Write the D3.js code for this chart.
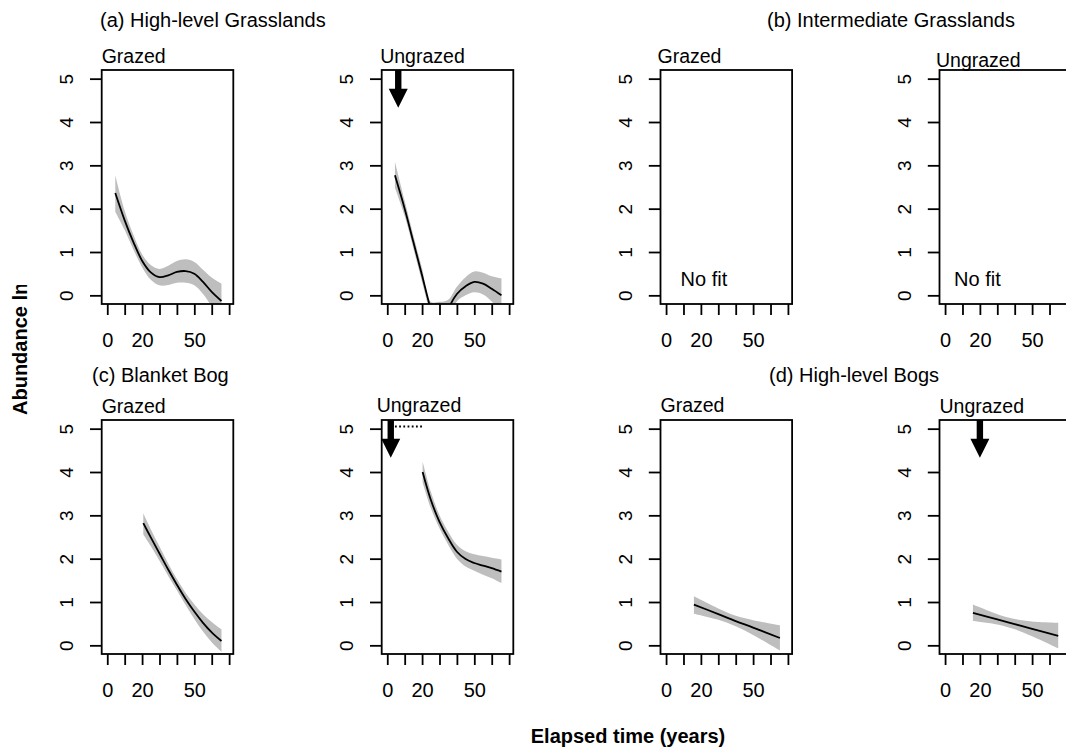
<!DOCTYPE html>
<html>
<head>
<meta charset="utf-8">
<script src="https://cdn.jsdelivr.net/npm/d3@7"></script>
<style>
body { margin: 0; background: #fff; }
text { font-family: "Liberation Sans", Arial, sans-serif; fill: #000; }
</style>
</head>
<body>
<svg id="chart" width="1066" height="752"></svg>
<script>
// ---- data ----
const groupTitles = ['(a) High-level Grasslands', '(b) Intermediate Grasslands',
                     '(c) Blanket Bog', '(d) High-level Bogs'];
const panelTitles = ['Grazed', 'Ungrazed'];
const xTicks = [0, 10, 20, 30, 40, 50, 60, 70];
const xTickLabels = ['0', '', '20', '', '', '50', '', ''];
const yTicks = [0, 1, 2, 3, 4, 5];

// (a) High-level Grasslands, grazed
const aGrazedYears = [4.6, 10, 15, 20, 25, 30, 35, 40, 45, 50, 55, 60, 65.6];
const aGrazedFit   = [2.36, 1.73, 1.23, 0.80, 0.53, 0.42, 0.46, 0.54, 0.56, 0.50, 0.31, 0.08, -0.13];
const aGrazedUpper = [2.77, 1.95, 1.40, 0.95, 0.70, 0.61, 0.68, 0.79, 0.83, 0.77, 0.59, 0.41, 0.27];
const aGrazedLower = [1.93, 1.51, 1.06, 0.65, 0.36, 0.23, 0.24, 0.29, 0.29, 0.23, 0.03, -0.25, -0.53];

// (a) High-level Grasslands, ungrazed (dips below the plot between ~24 and ~36 years)
const aUngrazedYears = [4.4, 10, 15, 20, 25, 30, 35, 40, 45, 50, 55, 60, 65.6];
const aUngrazedFit   = [2.77, 2.00, 1.23, 0.46, -0.32, -0.90, -0.32, 0.03, 0.21, 0.31, 0.27, 0.15, 0.00];
const aUngrazedUpper = [3.08, 2.18, 1.38, 0.62, -0.15, -0.15, -0.10, 0.20, 0.42, 0.55, 0.52, 0.44, 0.39];
const aUngrazedLower = [2.48, 1.83, 1.08, 0.30, -0.50, -1.50, -0.60, -0.14, 0.00, 0.07, 0.02, -0.14, -0.39];

// (c) Blanket Bog
const cGrazedYears = [20.7, 25, 30, 35, 40, 45, 50, 55, 60, 65.6];
const cGrazedFit   = [2.82, 2.49, 2.12, 1.75, 1.40, 1.07, 0.78, 0.52, 0.30, 0.10];
const cGrazedUpper = [3.05, 2.68, 2.28, 1.89, 1.53, 1.21, 0.95, 0.72, 0.54, 0.37];
const cGrazedLower = [2.56, 2.29, 1.95, 1.60, 1.27, 0.93, 0.61, 0.32, 0.07, -0.15];

const cUngrazedYears = [20.3, 25, 30, 35, 40, 45, 50, 55, 60, 65.6];
const cUngrazedFit   = [4.00, 3.36, 2.85, 2.47, 2.16, 1.99, 1.90, 1.84, 1.78, 1.70];
const cUngrazedUpper = [4.24, 3.55, 3.00, 2.62, 2.32, 2.17, 2.10, 2.06, 2.02, 1.98];
const cUngrazedLower = [3.76, 3.17, 2.70, 2.32, 2.00, 1.82, 1.72, 1.63, 1.55, 1.44];

// (d) High-level Bogs
const dGrazedYears = [16, 30, 40, 50, 65.4];
const dGrazedFit   = [0.94, 0.72, 0.56, 0.41, 0.17];
const dGrazedUpper = [1.13, 0.85, 0.68, 0.58, 0.46];
const dGrazedLower = [0.73, 0.59, 0.44, 0.24, -0.12];

const dUngrazedYears = [16, 30, 40, 50, 65];
const dUngrazedFit   = [0.75, 0.60, 0.49, 0.38, 0.22];
const dUngrazedUpper = [0.94, 0.72, 0.61, 0.55, 0.52];
const dUngrazedLower = [0.56, 0.48, 0.37, 0.21, -0.07];

// arrows (year), the dotted segment and "No fit" notes
const arrowYears = { a1: 6.3, c1: 2, d1: 20 };
const dottedSegment = [2, 20.3, 5.05];
const noFitAt = [[8.3, 0.21], [5.2, 0.21]];

// ---- layout ----
const W = 131.6, H = 234;
const colLeft = [101.7, 381.7, 660.5, 939.5];
const rowTop = [70, 420];
const groupTitlePos = [[100, 27], [767, 27], [92, 382], [769, 382]];
const titleNudge = [[0, 63], [-1.5, 63], [-3, 63], [-3.5, 66.5],
                    [0, 413], [-5, 411.5], [0, 411.5], [0, 413]];

const panels = [
    { row: 0, col: 0, title: panelTitles[0], years: aGrazedYears, fit: aGrazedFit, lower: aGrazedLower, upper: aGrazedUpper },
    { row: 0, col: 1, title: panelTitles[1], years: aUngrazedYears, fit: aUngrazedFit, lower: aUngrazedLower, upper: aUngrazedUpper, arrow: arrowYears.a1 },
    { row: 0, col: 2, title: panelTitles[0], noFit: noFitAt[0] },
    { row: 0, col: 3, title: panelTitles[1], noFit: noFitAt[1] },
    { row: 1, col: 0, title: panelTitles[0], years: cGrazedYears, fit: cGrazedFit, lower: cGrazedLower, upper: cGrazedUpper },
    { row: 1, col: 1, title: panelTitles[1], years: cUngrazedYears, fit: cUngrazedFit, lower: cUngrazedLower, upper: cUngrazedUpper, arrow: arrowYears.c1, dotted: dottedSegment },
    { row: 1, col: 2, title: panelTitles[0], years: dGrazedYears, fit: dGrazedFit, lower: dGrazedLower, upper: dGrazedUpper },
    { row: 1, col: 3, title: panelTitles[1], years: dUngrazedYears, fit: dUngrazedFit, lower: dUngrazedLower, upper: dUngrazedUpper, arrow: arrowYears.d1 }
];

const svg = d3.select('#chart');
const defs = svg.append('defs');
const LW = 1.8;

panels.forEach((p, i) => {
    const left = colLeft[p.col], top = rowTop[p.row];
    const x = d3.scaleLinear().domain([-3.2, 72.4]).range([left, left + W]);
    const y = d3.scaleLinear().domain([-0.2, 5.2]).range([top + H, top]);
    const g = svg.append('g');

    defs.append('clipPath').attr('id', 'clip' + i)
        .append('rect').attr('x', left).attr('y', top).attr('width', W).attr('height', H);
    const plot = g.append('g').attr('clip-path', `url(#clip${i})`);

    if (p.years) {
        const rows = p.years.map((t, k) => ({ t, fit: p.fit[k], lo: p.lower[k], hi: p.upper[k] }));
        plot.append('path').datum(rows)
            .attr('d', d3.area().x(d => x(d.t)).y0(d => y(d.lo)).y1(d => y(d.hi)).curve(d3.curveCatmullRom))
            .attr('fill', '#bebebe');
        plot.append('path').datum(rows)
            .attr('d', d3.line().x(d => x(d.t)).y(d => y(d.fit)).curve(d3.curveCatmullRom))
            .attr('fill', 'none').attr('stroke', '#000').attr('stroke-width', LW);
    }
    if (p.dotted) {
        plot.append('line')
            .attr('x1', x(p.dotted[0])).attr('x2', x(p.dotted[1]))
            .attr('y1', y(p.dotted[2])).attr('y2', y(p.dotted[2]))
            .attr('stroke', '#000').attr('stroke-width', LW).attr('stroke-dasharray', '1.8,2.4');
    }
    if (p.arrow !== undefined) {
        const ax = x(p.arrow), y0 = y(5.2), tip = y(4.33), head = tip - 19;
        plot.append('path')
            .attr('d', `M${ax - 3.2},${y0}L${ax + 3.2},${y0}L${ax + 3.2},${head}L${ax + 9.5},${head}` +
                       `L${ax},${tip}L${ax - 9.5},${head}L${ax - 3.2},${head}Z`)
            .attr('fill', '#000');
    }
    if (p.noFit) {
        g.append('text').attr('x', x(p.noFit[0])).attr('y', y(p.noFit[1]))
            .attr('font-size', 20).text('No fit');
    }

    // axes
    const yAxis = g.append('g').attr('transform', `translate(${left},0)`)
        .call(d3.axisLeft(y).tickValues(yTicks).tickSize(11.7).tickFormat(d3.format('d')));
    const xAxis = g.append('g').attr('transform', `translate(0,${top + H})`)
        .call(d3.axisBottom(x).tickValues(xTicks).tickSize(11).tickFormat((d, k) => xTickLabels[k]));
    [yAxis, xAxis].forEach(a => {
        a.attr('font-family', null).attr('font-size', null);
        a.select('.domain').remove();
        a.selectAll('line').attr('stroke', '#000').attr('stroke-width', LW);
    });
    yAxis.selectAll('text')
        .attr('x', null).attr('dy', null).attr('text-anchor', 'middle')
        .attr('font-size', 19)
        .attr('transform', 'translate(-29,0) rotate(-90)');
    xAxis.selectAll('text').attr('y', 43).attr('dy', null).attr('font-size', 20);

    g.append('rect').attr('x', left).attr('y', top).attr('width', W).attr('height', H)
        .attr('fill', 'none').attr('stroke', '#000').attr('stroke-width', LW);

    g.append('text')
        .attr('x', left + titleNudge[i][0]).attr('y', titleNudge[i][1])
        .attr('font-size', 19.5).text(p.title);
});

svg.selectAll('.groupTitle').data(groupTitles).join('text')
    .attr('class', 'groupTitle')
    .attr('x', (d, i) => groupTitlePos[i][0]).attr('y', (d, i) => groupTitlePos[i][1])
    .attr('font-size', 20).text(d => d);

defs.append('clipPath').attr('id', 'ylabClip')
    .append('rect').attr('x', 0).attr('y', 285).attr('width', 60).attr('height', 200);
svg.append('g').attr('clip-path', 'url(#ylabClip)')
    .append('text')
    .attr('transform', 'translate(27,415) rotate(-90)')
    .attr('font-size', 20).attr('font-weight', 'bold')
    .text('Abundance ln');

svg.append('text')
    .attr('x', 628).attr('y', 743).attr('text-anchor', 'middle')
    .attr('font-size', 20).attr('font-weight', 'bold')
    .text('Elapsed time (years)');
</script>
</body>
</html>
